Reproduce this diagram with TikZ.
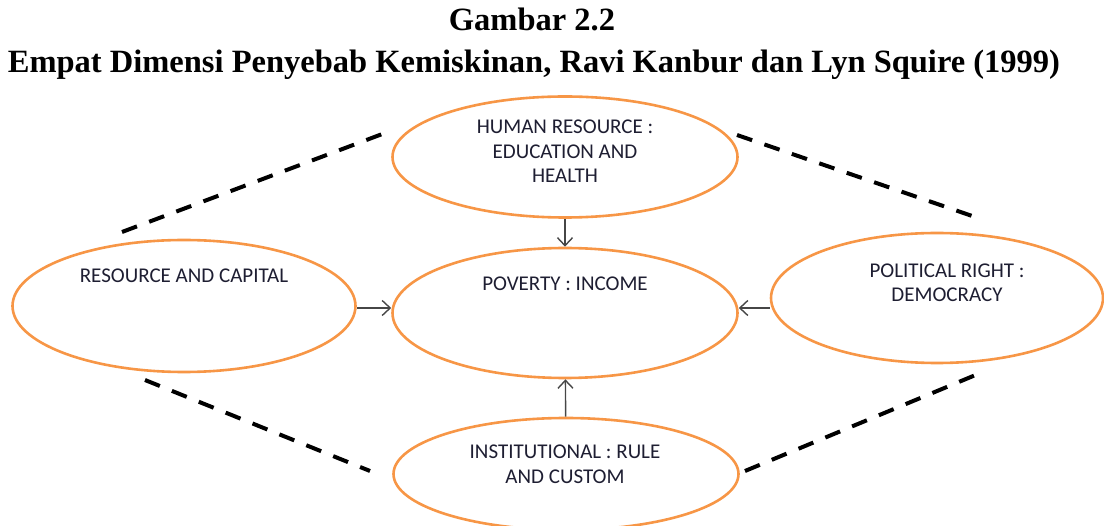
\documentclass[tikz,border=0pt]{standalone}
\usepackage{fontspec}
\setmainfont{Liberation Serif}
\newfontfamily\boxfont{Carlito}
\usetikzlibrary{shapes.geometric,arrows.meta}

\definecolor{dimorange}{RGB}{247,150,70}
\definecolor{dimtextcol}{RGB}{30,30,50}
\definecolor{arrowgray}{RGB}{70,70,70}

\tikzset{
  dim/.style={ellipse, draw=dimorange, line width=2.6pt, fill=white, inner sep=0pt},
  dimtext/.style={font=\boxfont\fontsize{21}{24.5}\selectfont, text=dimtextcol, align=center, inner sep=0pt},
  tocenter/.style={-{Straight Barb[length=8pt,width=15pt]}, draw=arrowgray, line width=1.4pt},
  dimlink/.style={line width=4pt, dash pattern=on 16pt off 13pt}
}

\begin{document}
\begin{tikzpicture}[x=1pt,y=-1pt]
  \useasboundingbox (0,0) rectangle (1104,526);

  % title
  \node[anchor=base, font=\bfseries\fontsize{32.5}{38}\selectfont] (title1) at (532,31) {Gambar 2.2};
  \node[anchor=base, font=\bfseries\fontsize{32.5}{38}\selectfont] (title2) at (534,73) {Empat Dimensi Penyebab Kemiskinan, Ravi Kanbur dan Lyn Squire (1999)};

  % the four dimensions and poverty in the middle
  \node[dim, minimum width=345pt, minimum height=121pt] (human) at (565,157) {};
  \node[dim, minimum width=345pt, minimum height=130pt] (poverty) at (565,313) {};
  \node[dim, minimum width=343pt, minimum height=132pt] (capital) at (184,306) {};
  \node[dim, minimum width=332pt, minimum height=130pt] (political) at (937,298) {};
  \node[dim, minimum width=345pt, minimum height=112pt] (institution) at (566,474) {};

  \node[dimtext] (humantext) at (565,151.5) {HUMAN RESOURCE :\\EDUCATION AND\\HEALTH};
  \node[dimtext] (povertytext) at (565,284) {POVERTY : INCOME};
  \node[dimtext] (capitaltext) at (184,276) {RESOURCE AND CAPITAL};
  \node[dimtext] (politicaltext) at (947,283) {POLITICAL RIGHT :\\DEMOCRACY};
  \node[dimtext] (institutiontext) at (565,464.5) {INSTITUTIONAL : RULE\\AND CUSTOM};

  % arrows into poverty
  \draw[tocenter] (human) -- (poverty);
  \draw[tocenter] (institution) -- (poverty);
  \draw[tocenter] (capital.east |- 0,308) -- (poverty.west |- 0,308);
  \draw[tocenter] (political.west |- 0,308) -- (poverty.east |- 0,308);

  % dashed links round the outside
  \coordinate (tl1) at (122,232);
  \coordinate (tl2) at (385,133);
  \coordinate (tr1) at (737,135);
  \coordinate (tr2) at (978,218);
  \coordinate (bl1) at (145,380);
  \coordinate (bl2) at (370,471);
  \coordinate (br1) at (745,471);
  \coordinate (br2) at (978,374);
  \draw[dimlink] (tl1) -- (tl2);
  \draw[dimlink] (tr1) -- (tr2);
  \draw[dimlink] (bl1) -- (bl2);
  \draw[dimlink] (br1) -- (br2);
\end{tikzpicture}
\end{document}
